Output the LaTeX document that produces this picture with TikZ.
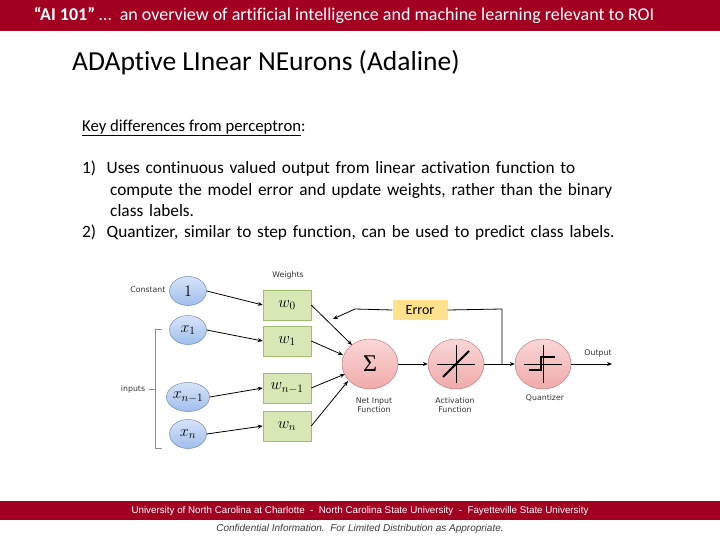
\RequirePackage{fix-cm}
\documentclass[tikz,border=0pt]{standalone}
\usepackage{fontspec}
\setmainfont{Carlito}[Ligatures=NoCommon]
\newfontfamily\diafont{DejaVu Sans}
\newfontfamily\footfont{Liberation Sans}
\newfontfamily\sigfont{Liberation Serif}
\usetikzlibrary{arrows.meta,calc,shapes.geometric}
\definecolor{barred}{RGB}{163,0,33}
\definecolor{inblue}{RGB}{160,190,235}
\definecolor{inbluetop}{RGB}{215,228,248}
\definecolor{inborder}{RGB}{110,140,190}
\definecolor{wgreen}{RGB}{215,232,180}
\definecolor{wborder}{RGB}{160,190,110}
\definecolor{fpink}{RGB}{240,170,170}
\definecolor{fpinktop}{RGB}{250,215,215}
\definecolor{fborder}{RGB}{200,120,120}
\definecolor{erryel}{RGB}{255,225,140}
\definecolor{footgray}{RGB}{60,60,60}
\tikzset{
  inp/.style={ellipse, draw=inborder, line width=0.5pt, top color=inbluetop, bottom color=inblue, minimum width=37pt, minimum height=29pt, inner sep=0pt, font=\fontsize{16}{17}\selectfont},
  wbox/.style={rectangle, draw=wborder, line width=0.5pt, fill=wgreen, minimum width=48pt, minimum height=30pt, inner sep=0pt, font=\fontsize{16}{17}\selectfont},
  func/.style={ellipse, draw=fborder, line width=0.5pt, top color=fpinktop, bottom color=fpink, minimum width=56pt, minimum height=50pt, inner sep=0pt},
  lbl/.style={font=\diafont\fontsize{7.8}{9}\selectfont, align=center, text=black!80},
  arr/.style={-{Stealth[length=5pt,width=4pt]}, line width=0.8pt},
  ln/.style={line width=0.8pt},
}
\begin{document}
\begin{tikzpicture}[x=1pt,y=-1pt]
\useasboundingbox (0,0) rectangle (720,540);
% title bar
\fill[barred] (0,0) rectangle (720,31);
\node[text=white, font=\fontsize{18}{20}\selectfont] (title) at (344,15) {\textbf{“AI 101”} …\ \ an overview of artificial intelligence and machine learning relevant to ROI};
% heading
\node[anchor=west, font=\fontsize{27.5}{30}\selectfont, inner sep=0pt] (head) at (72,63) {ADAptive LInear NEurons (Adaline)};
\node[anchor=west, font=\fontsize{16.7}{19}\selectfont, inner sep=0pt] (key) at (82,128) {\underline{Key differences from perceptron}:};
\node[anchor=north west, font=\fontsize{17.3}{21.3}\selectfont, inner sep=0pt, text width=600pt, align=left] (list) at (82,161) {%
1)\hspace{10.5pt}Uses continuous valued output from linear activation function to\\
\hspace{28pt}compute the model error and update weights, rather than the binary\\
\hspace{28pt}class labels.\\
2)\hspace{10.5pt}Quantizer, similar to step function, can be used to predict class labels.};
% inputs
\node[inp] (c1) at (188,291) {$1$};
\node[inp] (x1) at (188,330) {$x_1$};
\node[inp] (xn1) at (188,397) {$x_{n-1}$};
\node[inp] (xn) at (188,434) {$x_n$};
\node[lbl, anchor=east] (const) at (169,290) {Constant};
\node[lbl] (inputs) at (133,389) {inputs};
\coordinate (bt) at (162,329);
\coordinate (bb) at (162,448);
\draw[black!45, line width=0.6pt] (bt) -- (155,329) -- (155,448) -- (bb);
\draw[black!45, line width=0.6pt] (inputs.east) -- (155,389);
% weights
\node[lbl] (wl) at (288,275) {Weights};
\node[wbox] (w0) at (287,305) {$w_0$};
\node[wbox] (w1) at (287,341) {$w_1$};
\node[wbox] (wn1) at (287,388) {$w_{n-1}$};
\node[wbox] (wn) at (287,426) {$w_n$};
\draw[arr] (c1.east) -- (w0.west);
\draw[arr] (x1.east) -- (w1.west);
\draw[arr] (xn1.east) -- (wn1.west);
\draw[arr] (xn.east) -- (wn.west);
% functions
\node[func, font=\sigfont\fontsize{24}{26}\selectfont] (sum) at (370,364) {Σ};
\node[func] (act) at (456,364) {};
\node[func] (qua) at (543,364) {};
\draw[line width=0.5pt] ($(act.center)+(-19,0)$) -- ($(act.center)+(19,0)$);
\draw[line width=0.5pt] ($(act.center)+(0,-19)$) -- ($(act.center)+(0,19)$);
\draw[line width=1.8pt] ($(act.center)+(-13,13)$) -- ($(act.center)+(13,-13)$);
\draw[line width=0.5pt] ($(qua.center)+(-19,0)$) -- ($(qua.center)+(19,0)$);
\draw[line width=0.5pt] ($(qua.center)+(0,-19)$) -- ($(qua.center)+(0,19)$);
\draw[line width=1.6pt] ($(qua.center)+(-14,6)$) -- ($(qua.center)+(-2,6)$) -- ($(qua.center)+(-2,-7)$) -- ($(qua.center)+(12,-7)$);
\draw[arr] (w0.east) -- (352,345);
\draw[arr] (w1.east) -- (343,355);
\draw[arr] (wn1.east) -- (345,374);
\draw[arr] (wn.east) -- (348,381);
\draw[arr] (sum.east) -- (act.west);
\coordinate (junc) at (502,364);
\draw[arr] (act.east) -- (qua.west);
\coordinate (outp) at (612,364);
\draw[arr] (qua.east) -- (outp);
\node[lbl, anchor=south] (outl) at (598,361) {Output};
% error
\node[rectangle, fill=erryel, minimum width=55pt, minimum height=20pt, inner sep=0pt, font=\fontsize{14}{15}\selectfont] (err) at (420,310) {Error};
\coordinate (et) at (502,309);
\coordinate (el) at (355,309);
\coordinate (etip) at (333,319);
\draw[ln] (junc) -- (et) -- (err.east);
\draw[arr] (err.west) -- (el) -- (etip);
\node[lbl] (nl) at (374,405) {Net Input\\Function};
\node[lbl] (al) at (455,405) {Activation\\Function};
\node[lbl] (ql) at (545,398) {Quantizer};
% footer
\fill[barred] (0,501) rectangle (720,520);
\node[text=white, font=\footfont\fontsize{9.8}{11}\selectfont] (foot) at (360,510.5) {University of North Carolina at Charlotte\ \ -\ \ North Carolina State University\ \ -\ \ Fayetteville State University};
\node[text=footgray, font=\footfont\itshape\fontsize{10}{11}\selectfont] (conf) at (360,529) {Confidential Information.\ \ For Limited Distribution as Appropriate.};
\end{tikzpicture}
\end{document}
